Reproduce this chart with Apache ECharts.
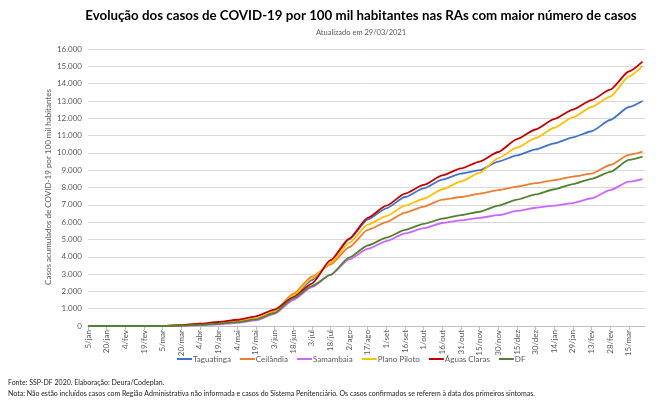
<!DOCTYPE html>
<html>
<head>
<meta charset="utf-8">
<script src="https://cdn.jsdelivr.net/npm/echarts@6/dist/echarts.min.js"></script>
<style>
html,body{margin:0;padding:0;background:#fff;}
#chart{width:656px;height:403px;}
</style>
</head>
<body>
<div id="chart"></div>
<script>
// day index since 5/jan/2020
var days = [0,15,30,45,60,75,90,105,120,135,150,165,180,195,210,225,240,255,270,285,300,315,330,345,360,375,390,405,420,435,446];
var tickLabels = ["5/jan","20/jan","4/fev","19/fev","5/mar","20/mar","4/abr","19/abr","4/mai","19/mai","3/jun","18/jun","3/jul","18/jul","2/ago","17/ago","1/set","16/set","1/out","16/out","31/out","15/nov","30/nov","15/dez","30/dez","14/jan","29/jan","13/fev","28/fev","15/mar"];
var taguatinga  = [0,0,0,0,0,30,80,140,230,400,800,1700,2650,3650,5000,6150,6800,7450,7950,8450,8800,9000,9500,9850,10200,10550,10900,11250,11900,12650,13000];
var ceilandia   = [0,0,0,0,0,40,100,170,270,420,850,1850,2850,3550,4550,5550,6000,6550,6900,7300,7450,7650,7850,8050,8250,8430,8630,8800,9300,9880,10070];
var samambaia   = [0,0,0,0,0,20,50,100,180,330,700,1500,2250,2950,3850,4450,4900,5350,5650,5950,6100,6250,6400,6650,6830,6950,7100,7380,7850,8340,8490];
var planoPiloto = [0,0,0,0,0,60,130,200,280,420,800,1750,2750,3650,4800,5850,6350,6950,7350,7900,8350,8850,9700,10300,10850,11450,12050,12650,13250,14400,15020];
var aguasClaras = [0,0,0,0,0,50,130,230,360,560,950,1650,2450,3800,5050,6250,6950,7650,8150,8700,9100,9500,10050,10800,11350,11950,12500,13050,13650,14700,15270];
var df          = [0,0,0,0,0,30,70,130,220,380,750,1600,2300,2950,3950,4650,5100,5550,5900,6200,6400,6600,6950,7300,7600,7900,8200,8500,8900,9590,9780];
var seriesNames = ["Taguatinga","Ceilândia","Samambaia","Plano Piloto","Águas Claras","DF"];
var seriesData = [taguatinga, ceilandia, samambaia, planoPiloto, aguasClaras, df];
var colors = ["#4472C4","#ED7D31","#CC66FF","#FFC000","#C00000","#548235"];

function pairs(vals){ return vals.map(function(v,i){ return [days[i], v]; }); }
function fmt(v){ return String(v).replace(/\B(?=(\d{3})+(?!\d))/g, "."); }

var FONT = "Lato";
var chart = echarts.init(document.getElementById('chart'), null, {renderer:'canvas'});
chart.setOption({
  animation:false,
  backgroundColor:'#fff',
  color: colors,
  textStyle:{fontFamily:FONT},
  title:{
    text:"Evolução dos casos de COVID-19 por 100 mil habitantes nas RAs com maior número de casos",
    subtext:"Atualizado em 29/03/2021",
    left:356, top:4, textAlign:'center', itemGap:7,
    textStyle:{fontFamily:FONT, fontSize:13.3, fontWeight:'bold', color:'#000'},
    subtextStyle:{fontFamily:FONT, fontSize:7.5, color:'#595959'}
  },
  legend:{
    data: seriesNames,
    left:172, top:350,
    icon:'rect', itemWidth:15, itemHeight:2, itemGap:9,
    textStyle:{fontFamily:FONT, fontSize:8, color:'#595959', padding:[0,0,0,-4]}
  },
  grid:{left:88, right:11, top:49, bottom:77},
  xAxis:{
    type:'value', min:0, max:448, interval:15,
    axisLine:{lineStyle:{color:'#BFBFBF'}},
    axisTick:{show:true, length:4, lineStyle:{color:'#BFBFBF'}},
    splitLine:{show:false},
    axisLabel:{
      rotate:90, fontSize:8, color:'#595959', margin:4, fontFamily:FONT,
      showMaxLabel:false,
      formatter:function(v){ var i=Math.round(v/15); return (v%15===0 && i<tickLabels.length)? tickLabels[i] : ''; }
    }
  },
  yAxis:{
    type:'value', min:0, max:16000, interval:1000,
    axisLine:{show:false}, axisTick:{show:false},
    splitLine:{lineStyle:{color:'#D9D9D9', width:1}},
    axisLabel:{fontSize:8, color:'#595959', margin:6, fontFamily:FONT, formatter:function(v){return fmt(v);}}
  },
  series: seriesNames.map(function(n,k){
    return {name:n, type:'line', data:pairs(seriesData[k]), showSymbol:false, smooth:0.2, smoothMonotone:'x',
            lineStyle:{width:1.8, color:colors[k]}, itemStyle:{color:colors[k]}};
  }),
  graphic:[
    {type:'text', x:48, y:187, rotation:Math.PI/2,
     style:{text:"Casos acumulados de COVID-19 por 100 mil habitantes", fontSize:8, fill:'#595959', fontFamily:FONT, textAlign:'center', textVerticalAlign:'middle'}},
    {type:'text', left:8, top:379, style:{text:"Fonte: SSP-DF 2020. Elaboração: Deura/Codeplan.", fontSize:7, fill:'#222', fontFamily:FONT}},
    {type:'text', left:8, top:390, style:{text:"Nota: Não estão incluídos casos com Região Administrativa não informada e casos do Sistema Penitenciário. Os casos confirmados se referem à data dos primeiros sintomas.", fontSize:7, fill:'#222', fontFamily:FONT}}
  ]
});
</script>
</body>
</html>
